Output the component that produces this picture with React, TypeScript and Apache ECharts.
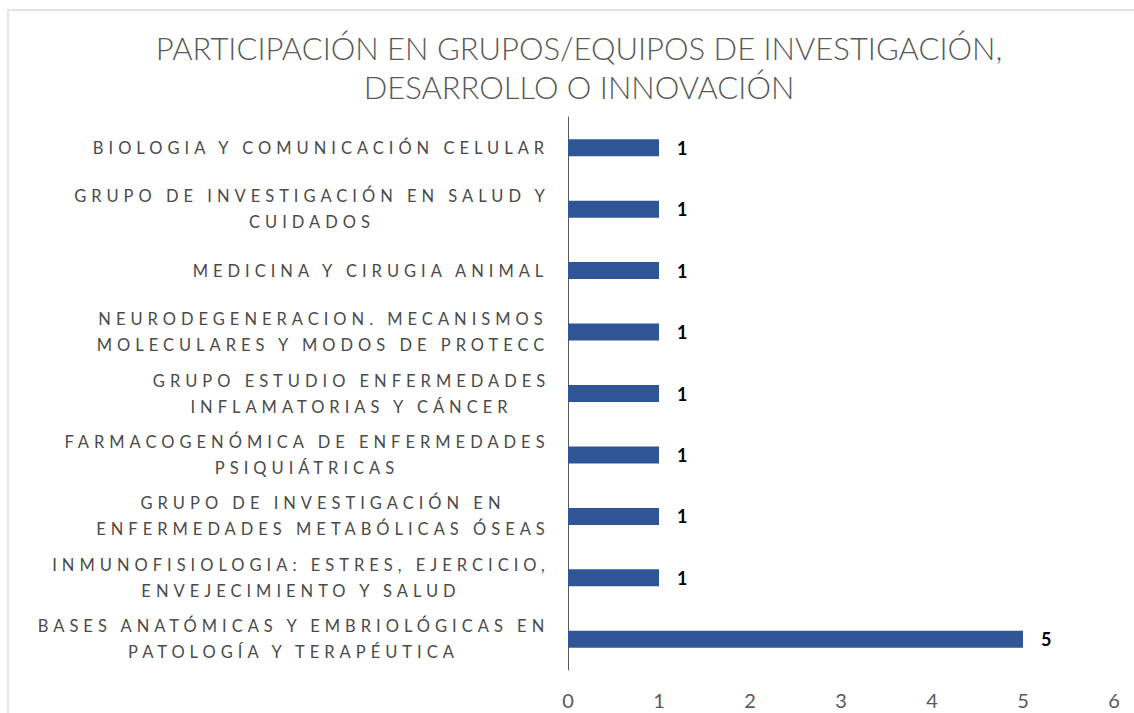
import React, { useEffect, useRef } from "react";
import * as echarts from "echarts";

const TITLE = "PARTICIPACIÓN EN GRUPOS/EQUIPOS DE INVESTIGACIÓN,\nDESARROLLO O INNOVACIÓN";

// top to bottom, as they appear
const categories: string[] = [
  "BIOLOGIA Y COMUNICACIÓN CELULAR",
  "GRUPO DE INVESTIGACIÓN EN SALUD Y\nCUIDADOS",
  "MEDICINA Y CIRUGIA ANIMAL",
  "NEURODEGENERACION. MECANISMOS\nMOLECULARES Y MODOS DE PROTECC",
  "GRUPO ESTUDIO ENFERMEDADES\nINFLAMATORIAS Y CÁNCER",
  "FARMACOGENÓMICA DE ENFERMEDADES\nPSIQUIÁTRICAS",
  "GRUPO DE INVESTIGACIÓN EN\nENFERMEDADES METABÓLICAS ÓSEAS",
  "INMUNOFISIOLOGIA: ESTRES, EJERCICIO,\nENVEJECIMIENTO Y SALUD",
  "BASES ANATÓMICAS Y EMBRIOLÓGICAS EN\nPATOLOGÍA Y TERAPÉUTICA",
];
const values: number[] = [1, 1, 1, 1, 1, 1, 1, 1, 5];
const xTicks: number[] = [0, 1, 2, 3, 4, 5, 6];

const CAT_FONT_SIZE = 16.5;
const CAT_FONT = "Lato";
const LETTER_SPACING = 5;

export default function App() {
  const ref = useRef<HTMLDivElement>(null);

  useEffect(() => {
    if (!ref.current) return;
    const canvas = document.createElement("canvas");
    const ctx = canvas.getContext("2d")!;
    ctx.font = `${CAT_FONT_SIZE}px ${CAT_FONT}`;

    // rich styles: one per distinct line, width includes letter spacing
    const lineIndex: Record<string, number> = {};
    const rich: Record<string, any> = {};
    let n = 0;
    categories.forEach((c) => {
      c.split("\n").forEach((line) => {
        if (lineIndex[line] === undefined) {
          const w = ctx.measureText(line).width + LETTER_SPACING * line.length;
          lineIndex[line] = n;
          rich["l" + n] = {
            width: Math.round(w),
            align: "center",
            fontSize: CAT_FONT_SIZE,
            fontFamily: CAT_FONT,
            color: "#4a4a4a",
            lineHeight: 26,
          };
          n++;
        }
      });
    });

    const chart = echarts.init(ref.current, null, { renderer: "svg" });
    chart.setOption({
      animation: false,
      backgroundColor: "#ffffff",
      title: {
        text: TITLE,
        left: 574,
        top: 23,
        textAlign: "center",
        textStyle: {
          fontFamily: "Lato",
          fontWeight: 300,
          fontSize: 31,
          lineHeight: 39,
          color: "#595959",
        },
      },
      graphic: [
        {
          type: "rect",
          shape: { x: 8, y: 10, width: 1200, height: 800 },
          style: { fill: "none", stroke: "#e3e3e3", lineWidth: 2 },
          silent: true,
        },
      ],
      grid: { left: 568, right: 20, top: 117, bottom: 43 },
      xAxis: {
        type: "value",
        min: xTicks[0],
        max: xTicks[xTicks.length - 1],
        interval: 1,
        axisLine: { show: false },
        axisTick: { show: false },
        splitLine: { show: false },
        axisLabel: {
          color: "#595959",
          fontSize: 20,
          fontFamily: "Lato",
          margin: 20,
        },
      },
      yAxis: {
        type: "category",
        inverse: true,
        data: categories,
        axisLine: { show: true, lineStyle: { color: "#595959", width: 1 } },
        axisTick: { show: false },
        axisLabel: {
          margin: 18,
          formatter: (v: string) =>
            v
              .split("\n")
              .map((line) => `{l${lineIndex[line]}|${line}}`)
              .join("\n"),
          rich,
        },
      },
      series: [
        {
          type: "bar",
          data: values,
          barWidth: 17,
          itemStyle: { color: "#2F5597" },
          label: {
            show: true,
            position: "right",
            distance: 18,
            color: "#000000",
            fontWeight: "bold",
            fontSize: 18,
            fontFamily: "Lato",
          },
        },
      ],
    });
    return () => chart.dispose();
  }, []);

  return (
    <>
      <style>{`#chartbox text[style*="${CAT_FONT_SIZE}px"] { letter-spacing: ${LETTER_SPACING}px; }`}</style>
      <div
        id="chartbox"
        ref={ref}
        style={{ position: "absolute", left: 0, top: 0, width: 1134, height: 713 }}
      />
    </>
  );
}
